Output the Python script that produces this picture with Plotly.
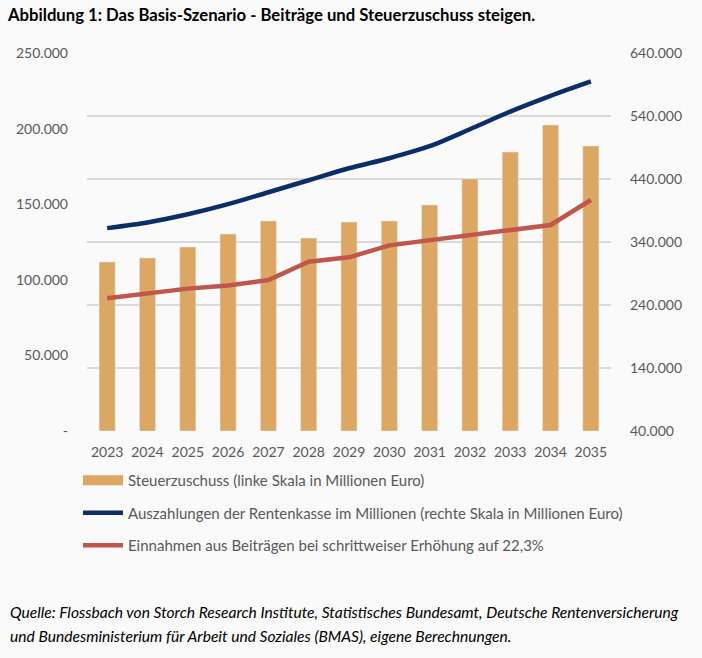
import plotly.graph_objects as go

years = ["2023", "2024", "2025", "2026", "2027", "2028", "2029",
         "2030", "2031", "2032", "2033", "2034", "2035"]
steuerzuschuss = [111800, 114400, 121700, 130300, 138900, 127600, 138200,
                  138900, 149500, 166700, 184500, 202400, 188500]
auszahlungen = [362000, 371000, 384000, 400000, 419000, 438000, 457000,
                473000, 492000, 519000, 547000, 572000, 595000]
einnahmen = [250600, 258500, 266000, 271000, 279700, 308700, 315700,
             334700, 343000, 351000, 359000, 367000, 406700]

left_tickvals = [0, 50000, 100000, 150000, 200000, 250000]
left_ticktext = ["-", "50.000", "100.000", "150.000", "200.000", "250.000"]
right_tickvals = [40000, 140000, 240000, 340000, 440000, 540000, 640000]
right_ticktext = ["40.000", "140.000", "240.000", "340.000", "440.000", "540.000", "640.000"]

name_bar = "Steuerzuschuss (linke Skala in Millionen Euro)"
name_blue = "Auszahlungen der Rentenkasse im Millionen (rechte Skala in Millionen Euro)"
name_red = "Einnahmen aus Beiträgen bei schrittweiser Erhöhung auf 22,3%"
title = "Abbildung 1: Das Basis-Szenario - Beiträge und Steuerzuschuss steigen."
source1 = "Quelle: Flossbach von Storch Research Institute, Statistisches Bundesamt, Deutsche Rentenversicherung"
source2 = "und Bundesministerium für Arbeit und Soziales (BMAS), eigene Berechnungen."

BAR = "#DCA663"
BLUE = "#0A2E68"
RED = "#C0574A"
GRAY = "#595959"
FONT = "Lato"

W, H = 702, 658
L, R, T, B = 87, 91, 53, 227
pw, ph = W - L - R, H - T - B

def px_x(x):
    return (x - L) / pw

def px_y(y):
    return (H - B - y) / ph

fig = go.Figure()
fig.add_trace(go.Bar(x=years, y=steuerzuschuss, marker_color=BAR, width=0.4,
                     showlegend=False, yaxis="y"))
fig.add_trace(go.Scatter(x=[None], y=[None], mode="lines", name=name_bar,
                         line=dict(color=BAR, width=10), legendgroup="a", yaxis="y"))
fig.add_trace(go.Scatter(x=years, y=auszahlungen, mode="lines", name=name_blue,
                         line=dict(color=BLUE, width=4.5, shape="spline", smoothing=0.8),
                         legendgroup="b", yaxis="y2"))
fig.add_trace(go.Scatter(x=years, y=einnahmen, mode="lines", name=name_red,
                         line=dict(color=RED, width=4.5),
                         legendgroup="c", yaxis="y2"))

fig.update_layout(
    width=W, height=H,
    margin=dict(l=L, r=R, t=T, b=B),
    paper_bgcolor="#FAFAFA", plot_bgcolor="#FAFAFA",
    font=dict(family=FONT, size=14, color=GRAY),
    title=dict(text="<b>" + title + "</b>", x=8 / W, xanchor="left",
               xref="container", y=1 - 15 / H, yanchor="middle",
               yref="container", font=dict(family=FONT, size=16.7, color="#000000")),
    xaxis=dict(type="category", showgrid=False, showline=False, ticks="",
               ticklabelstandoff=11, tickfont=dict(size=14, color=GRAY)),
    yaxis=dict(range=[0, 250000], tickvals=left_tickvals, ticktext=left_ticktext,
               showgrid=False, zeroline=False, ticks="", ticklabelstandoff=18,
               tickfont=dict(size=14, color=GRAY)),
    yaxis2=dict(range=[40000, 640000], tickvals=right_tickvals, ticktext=right_ticktext,
                overlaying="y", side="right", showgrid=True, gridcolor="#D9D9D9",
                gridwidth=1.5, zeroline=False, ticks="", ticklabelstandoff=18,
                tickfont=dict(size=14, color=GRAY)),
    legend=dict(x=px_x(78), xanchor="left", y=px_y(464), yanchor="top",
                traceorder="grouped", tracegroupgap=10, bgcolor="rgba(0,0,0,0)",
                itemwidth=40, font=dict(size=15, color=GRAY)),
    bargap=0.6,
    annotations=[
        dict(text="<i>" + source1 + "</i>", x=px_x(8), y=px_y(612), xref="paper",
             yref="paper", xanchor="left", yanchor="middle", showarrow=False,
             font=dict(size=15.6, color="#000000")),
        dict(text="<i>" + source2 + "</i>", x=px_x(8), y=px_y(636), xref="paper",
             yref="paper", xanchor="left", yanchor="middle", showarrow=False,
             font=dict(size=15.6, color="#000000")),
    ],
)

fig.write_html("out.html", config={"displayModeBar": False},
               post_script="document.body.style.margin='0';")
